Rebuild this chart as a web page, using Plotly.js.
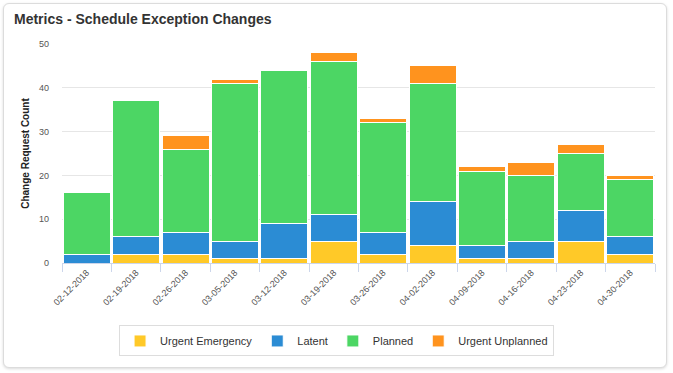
<!DOCTYPE html>
<html>
<head>
<meta charset="utf-8">
<script src="https://cdn.plot.ly/plotly-3.0.1.min.js"></script>
<style>
html,body{margin:0;padding:0;background:#fff;}
#card{position:absolute;left:3px;top:3px;width:662px;height:363px;border:1px solid #dcdcdc;border-radius:6px;box-shadow:0 1px 3px rgba(0,0,0,0.15);background:#fff;}
#chart{position:absolute;left:0;top:0;width:673px;height:373px;}
</style>
</head>
<body>
<div id="card"></div>
<div id="chart"></div>
<script>
const categories = ["02-12-2018","02-19-2018","02-26-2018","03-05-2018","03-12-2018","03-19-2018","03-26-2018","04-02-2018","04-09-2018","04-16-2018","04-23-2018","04-30-2018"];
const urgentEmergency = [0, 2, 2, 1, 1, 5, 2, 4, 1, 1, 5, 2];
const latent          = [2, 4, 5, 4, 8, 6, 5, 10, 3, 4, 7, 4];
const planned         = [14, 31, 19, 36, 35, 35, 25, 27, 17, 15, 13, 13];
const urgentUnplanned = [0, 0, 3, 1, 0, 2, 1, 4, 1, 3, 2, 1];
const yTicks = [0, 10, 20, 30, 40, 50];

const seriesNames = ["Urgent Emergency", "Latent", "Planned", "Urgent Unplanned"];
const seriesValues = [urgentEmergency, latent, planned, urgentUnplanned];
const seriesColors = ["#ffc928", "#2b8cd4", "#4cd664", "#ff931e"];

const traces = seriesNames.map((name, i) => ({
  type: "bar",
  name: name,
  x: categories,
  y: seriesValues[i],
  marker: {color: seriesColors[i], line: {color: "#ffffff", width: 1}},
  hoverinfo: "x+y+name"
}));

const layout = {
  width: 673, height: 373,
  paper_bgcolor: "rgba(0,0,0,0)",
  plot_bgcolor: "rgba(0,0,0,0)",
  barmode: "stack",
  bargap: 0.05,
  margin: {l: 62, r: 18, t: 44, b: 110},
  font: {family: "Liberation Sans, Arial, sans-serif", color: "#666666"},
  title: {
    text: "Metrics - Schedule Exception Changes",
    font: {family: "Liberation Sans, Arial, sans-serif", size: 14, color: "#333333", weight: "bold"},
    x: 14/673, xref: "container", xanchor: "left",
    y: 1 - 19/373, yref: "container", yanchor: "middle"
  },
  xaxis: {
    type: "category",
    tickangle: -45,
    tickfont: {size: 9, color: "#555555"},
    ticks: "outside",
    tickson: "boundaries",
    ticklen: 8,
    tickcolor: "#ccd6eb",
    showline: true,
    linecolor: "#ccd6eb",
    linewidth: 1,
    showgrid: false
  },
  yaxis: {
    range: [0, 50],
    tickvals: yTicks,
    ticktext: yTicks.map(String),
    tickfont: {size: 9, color: "#555555"},
    gridcolor: "#e6e6e6",
    zeroline: false,
    showline: false,
    ticks: "",
    ticklabelstandoff: 12,
    title: {
      text: "Change Request Count",
      font: {family: "Liberation Sans, Arial, sans-serif", size: 10, color: "#222222", weight: "bold"},
      standoff: 7
    }
  },
  showlegend: true,
  legend: {
    orientation: "h",
    x: 0.463, xanchor: "center",
    y: -0.356, yanchor: "middle",
    bordercolor: "#dddddd",
    borderwidth: 1,
    font: {size: 11, color: "#333333"},
    traceorder: "normal",
    itemwidth: 30
  }
};

Plotly.newPlot("chart", traces, layout, {displayModeBar: false, staticPlot: true});
</script>
</body>
</html>
